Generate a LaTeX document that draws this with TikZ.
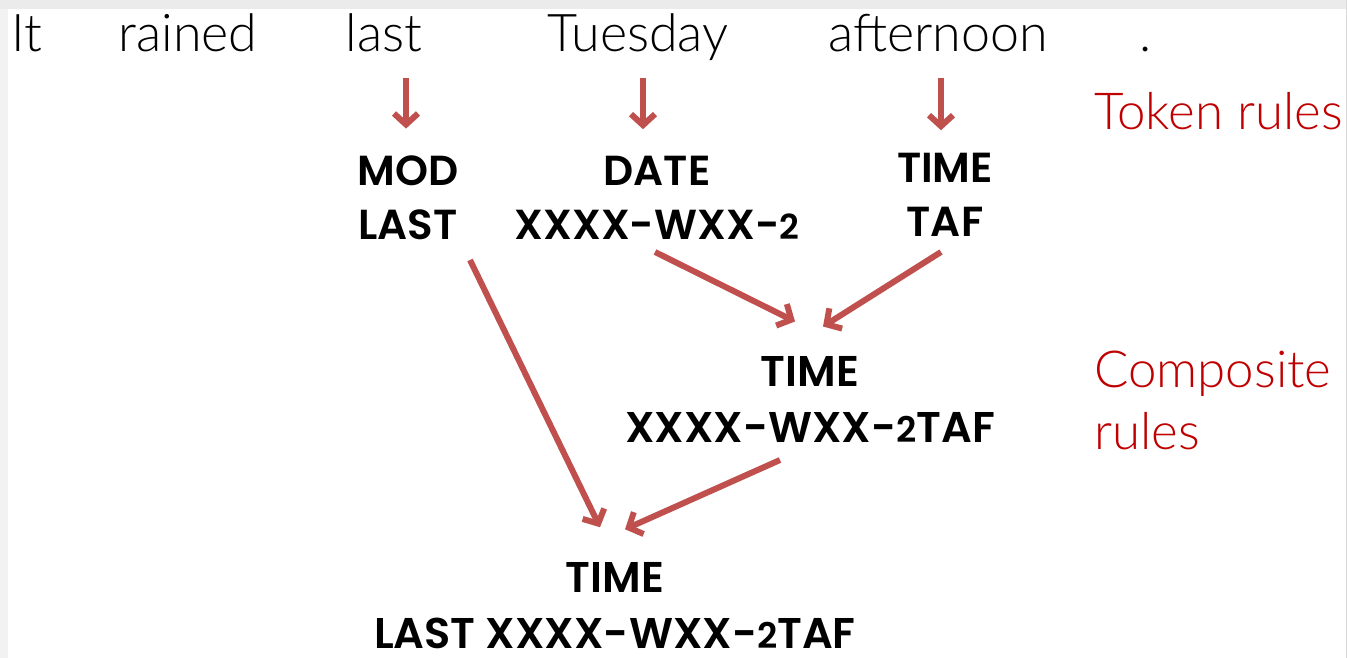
\documentclass[tikz,border=0pt]{standalone}
\usepackage{fontspec}
\usetikzlibrary{arrows.meta,calc}
\newfontfamily\thinf{Lato Light}
\newfontfamily\boldf{Poppins SemiBold}
\definecolor{arrred}{HTML}{C0504D}
\definecolor{labred}{HTML}{C00000}
\newcommand\smtwo{\scalebox{0.82}{2}}
\begin{document}
\begin{tikzpicture}[x=1pt,y=-1pt,
  word/.style={font=\thinf\fontsize{52}{62}\selectfont, anchor=base, inner sep=0pt},
  lab/.style={font=\thinf\fontsize{51}{62}\selectfont, text=labred, inner sep=0pt, align=left},
  tag/.style={font=\boldf\fontsize{42}{54}\selectfont, anchor=south, inner sep=0pt, align=center},
  bigtag/.style={tag, font=\boldf\fontsize{43}{56}\selectfont},
  arr/.style={draw=arrred, line width=6pt, -{Straight Barb[length=11pt,width=24pt]}}]
\useasboundingbox (0,0) rectangle (1347,658);
\fill[white] (0,0) rectangle (1347,658);
\fill[black!8] (0,0) rectangle (1347,9);
\fill[black!5] (0,9) rectangle (8,658);
\draw[black!15, line width=1pt] (1346.5,0) -- (1346.5,658);

% sentence
\node[word] (w1) at (27,52) {It};
\node[word] (w2) at (188,52) {rained};
\node[word] (w3) at (384,52) {last};
\node[word] (w4) at (638,52) {Tuesday};
\node[word] (w5) at (938,52) {afternoon};
\node[word] (w6) at (1146,52) {.};

% labels
\node[lab, anchor=base west] (tok) at (1094,130) {Token rules};
\node[lab, anchor=south west] (cmp) at (1094,450) {Composite\\rules};

% tagged nodes
\node[tag] (mod) at (408,240) {MOD\\LAST};
\node[tag] (date) at (657,240) {DATE\\XXXX-WXX-\smtwo};
\node[tag] (taf) at (945,237) {TIME\\TAF};
\node[bigtag] (comp) at (810,443) {TIME\\XXXX-WXX-\smtwo TAF};
\node[bigtag] (fin) at (615,649) {TIME\\LAST XXXX-WXX-\smtwo TAF};

% token rule arrows
\coordinate (t1) at (406,78);
\coordinate (t2) at (643,78);
\coordinate (t3) at (941,78);
\draw[arr, shorten >=27pt] (t1) -- (t1 |- mod.north);
\draw[arr, shorten >=27pt] (t2) -- (t2 |- date.north);
\draw[arr, shorten >=23pt] (t3) -- (t3 |- taf.north);

% composite rule arrows
\coordinate (d1) at ($(date.south)+(-2,12)$);
\coordinate (d2) at ($(comp.north)+(-15,-35)$);
\coordinate (f1) at ($(taf.south)+(-4,15)$);
\coordinate (f2) at ($(comp.north)+(13,-30)$);
\coordinate (m1) at ($(mod.south)+(62,20)$);
\coordinate (m2) at ($(fin.north)+(-15,-35)$);
\coordinate (c1) at ($(comp.south)+(-30,17)$);
\coordinate (c2) at ($(fin.north)+(10,-33)$);
\draw[arr] (d1) -- (d2);
\draw[arr] (f1) -- (f2);
\draw[arr] (m1) -- (m2);
\draw[arr] (c1) -- (c2);
\end{tikzpicture}
\end{document}
